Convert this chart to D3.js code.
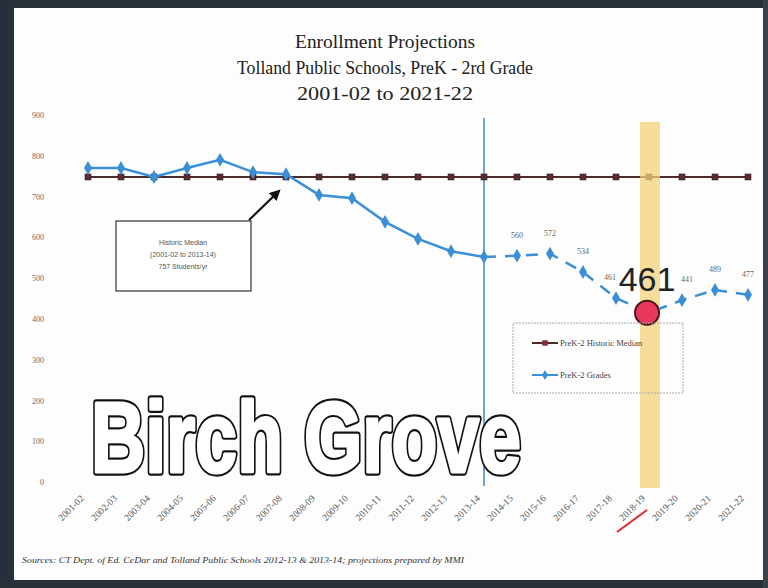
<!DOCTYPE html>
<html><head><meta charset="utf-8">
<script src="https://cdn.jsdelivr.net/npm/d3@7"></script>
<style>html,body{margin:0;padding:0;background:#fff;}svg{display:block;}</style>
</head><body>
<svg id="c" width="768" height="588"></svg>
<script>
const categories = ["2001-02","2002-03","2003-04","2004-05","2005-06","2006-07","2007-08","2008-09","2009-10","2010-11","2011-12","2012-13","2013-14","2014-15","2015-16","2016-17","2017-18","2018-19","2019-20","2020-21","2021-22"];
const gradesValues = [770,770,748,770,790,760,755,704,696,638,596,566,552,555,560,515,451,415,446,471,459];
const medianValues = [748,748,748,748,748,748,748,748,748,748,748,748,748,748,748,748,748,748,748,748,748];
const projectedLabels = ["","","","","","","","","","","","","","560","572","534","461","","441","489","477"];
const yTicks = [0,100,200,300,400,500,600,700,800,900];
const titleLines = ["Enrollment Projections","Tolland Public Schools, PreK - 2rd Grade","2001-02 to 2021-22"];
const lastActual = "2013-14";
const highlightYear = "2018-19";
const highlightLabel = "461";

const svg = d3.select("#c");
const W = 768, H = 588;
svg.append("rect").attr("width",W).attr("height",H).attr("fill","#fdfdfd");

const x = d3.scalePoint().domain(categories).range([88,748]);
const y = d3.scaleLinear().domain([0,900]).range([482,115]);

// title
svg.append("g").selectAll("text").data(titleLines).join("text")
  .attr("x",385).attr("y",(d,i)=>48+i*26).attr("text-anchor","middle")
  .attr("font-family","Liberation Serif, serif").attr("font-size",19).attr("fill","#222")
  .attr("textLength",(d,i)=>[180,296,176][i]).attr("lengthAdjust","spacingAndGlyphs")
  .text(d=>d);

// y axis labels
const yAxis = d3.axisLeft(y).tickValues(yTicks).tickSize(0).tickPadding(0);
const ya = svg.append("g").attr("transform","translate(44,0)").call(yAxis);
ya.select(".domain").remove();
ya.selectAll("text").attr("font-family","Liberation Serif, serif").attr("font-size",8).attr("fill","#6a6a6a");

// x axis labels
const xAxis = d3.axisBottom(x).tickSize(0).tickPadding(0);
const xa = svg.append("g").attr("transform","translate(0,497)").call(xAxis);
xa.select(".domain").remove();
xa.selectAll("text").attr("font-family","Liberation Serif, serif").attr("font-size",9.5).attr("fill","#555")
  .attr("text-anchor","end").attr("dy",0).attr("transform","translate(-4,2) rotate(-45)");

// vertical line at last actual year
svg.append("line").attr("x1",x(lastActual)).attr("x2",x(lastActual)).attr("y1",118).attr("y2",486)
  .attr("stroke","#3b86cc").attr("stroke-width",1.5);

// median line
const lineGen = d3.line().x((d,i)=>x(categories[i])).y(d=>y(d));
svg.append("path").datum(medianValues).attr("d",lineGen).attr("fill","none")
  .attr("stroke","#4a2c2c").attr("stroke-width",2);
svg.append("g").selectAll("rect").data(medianValues).join("rect")
  .attr("x",(d,i)=>x(categories[i])-3).attr("y",d=>y(d)-3).attr("width",6).attr("height",6)
  .attr("fill","#5a2a35").attr("stroke","#3a2020").attr("stroke-width",0.6);

// grades line: actual solid, projected dashed
const idxLast = categories.indexOf(lastActual);
const actual = gradesValues.slice(0, idxLast+1);
const projected = gradesValues.slice(idxLast);
svg.append("path").datum(actual).attr("d",lineGen).attr("fill","none")
  .attr("stroke","#3a8fd6").attr("stroke-width",2.5);
const lineGen2 = d3.line().x((d,i)=>x(categories[i+idxLast])).y(d=>y(d));
svg.append("path").datum(projected).attr("d",lineGen2).attr("fill","none")
  .attr("stroke","#3a8fd6").attr("stroke-width",2.5).attr("stroke-dasharray","12,9");
const diamond = d3.symbol().type(d3.symbolDiamond).size(55);
svg.append("g").selectAll("path").data(gradesValues).join("path")
  .attr("d",diamond).attr("transform",(d,i)=>`translate(${x(categories[i])},${y(d)})`)
  .attr("fill","#3a8fd6");

// data labels (projected); the two beside the big label are nudged outward
const hi = categories.indexOf(highlightYear);
svg.append("g").selectAll("text").data(projectedLabels).join("text")
  .attr("x",(d,i)=>x(categories[i]) + (i===hi-1?-6:(i===hi+1?5:0)))
  .attr("y",(d,i)=>y(gradesValues[i])-18)
  .attr("text-anchor","middle").attr("font-family","Liberation Serif, serif").attr("font-size",8).attr("fill","#666")
  .text(d=>d);

const hx = x(highlightYear)-2;

// highlight band
svg.append("rect").attr("x",x(highlightYear)-9).attr("y",122).attr("width",20).attr("height",366)
  .attr("fill","#f4d27a").attr("opacity",0.75);

// red circle
svg.append("circle").attr("cx",hx).attr("cy",y(gradesValues[hi]))
  .attr("r",12).attr("fill","#e8385e").attr("stroke","#4a1a1a").attr("stroke-width",2);

// big label
svg.append("text").attr("x",hx).attr("y",291).attr("text-anchor","middle")
  .attr("font-family","Liberation Sans, Arial, sans-serif").attr("font-size",34).attr("fill","#222")
  .text(highlightLabel);

// annotation box
svg.append("rect").attr("x",116).attr("y",221).attr("width",135).attr("height",70)
  .attr("fill","#fff").attr("stroke","#333").attr("stroke-width",1.2);
const annot = ["Historic Median","(2001-02 to 2013-14)","757 Students/yr"];
svg.append("g").selectAll("text").data(annot).join("text")
  .attr("x",183).attr("y",(d,i)=>245+i*12).attr("text-anchor","middle")
  .attr("font-family","Liberation Sans, sans-serif").attr("font-size",7).attr("fill","#555").text(d=>d);
svg.append("defs").append("marker").attr("id","ah").attr("viewBox","0 0 10 10").attr("refX",8).attr("refY",5)
  .attr("markerWidth",5).attr("markerHeight",5).attr("orient","auto")
  .append("path").attr("d","M0,0L10,5L0,10z").attr("fill","#111");
svg.append("line").attr("x1",249).attr("y1",220).attr("x2",279).attr("y2",191)
  .attr("stroke","#111").attr("stroke-width",2.2).attr("marker-end","url(#ah)");

// legend
svg.append("rect").attr("x",513).attr("y",323).attr("width",170).attr("height",70)
  .attr("fill","none").attr("stroke","#aaa").attr("stroke-width",1).attr("stroke-dasharray","2,1");
const legend = [{name:"PreK-2 Historic Median", c:"#4a2c2c", m:"sq"},{name:"PreK-2 Grades", c:"#3a8fd6", m:"di"}];
const lg = svg.append("g").selectAll("g").data(legend).join("g")
  .attr("transform",(d,i)=>`translate(532,${343+i*32})`);
lg.append("line").attr("x1",0).attr("x2",26).attr("stroke",d=>d.c).attr("stroke-width",2);
lg.append("path").attr("d",d=>d.m==="sq"?d3.symbol().type(d3.symbolSquare).size(30)():d3.symbol().type(d3.symbolDiamond).size(30)())
  .attr("transform","translate(13,0)").attr("fill",d=>d.m==="sq"?"#8a2a3a":"#3a8fd6");
lg.append("text").attr("x",28).attr("y",3).attr("font-family","Liberation Serif, serif").attr("font-size",8.5).attr("fill","#444").text(d=>d.name);

// Birch Grove outline text (thick black outline under a white inner stroke for bolder letters)
const bg = svg.append("g");
[{sw:7.5,st:"#111",f:"#111"},{sw:3.2,st:"#fff",f:"#fff"}].forEach(l=>{
  bg.append("text").attr("x",91).attr("y",472)
    .attr("font-family","Liberation Sans, Arial, sans-serif").attr("font-weight","bold").attr("font-size",100)
    .attr("textLength",430).attr("lengthAdjust","spacingAndGlyphs")
    .attr("fill",l.f).attr("stroke",l.st).attr("stroke-width",l.sw).attr("stroke-linejoin","round")
    .text("Birch Grove");
});

// red strike under highlighted x label
svg.append("line").attr("x1",617).attr("y1",532).attr("x2",647).attr("y2",510)
  .attr("stroke","#e02828").attr("stroke-width",2);

// source
svg.append("text").attr("x",22).attr("y",563)
  .attr("font-family","Liberation Serif, serif").attr("font-style","italic").attr("font-size",8).attr("fill","#333")
  .attr("textLength",442).attr("lengthAdjust","spacingAndGlyphs")
  .text("Sources: CT Dept. of Ed. CeDar and Tolland Public Schools 2012-13 & 2013-14; projections prepared by MMI");

// frame
svg.append("rect").attr("x",0).attr("y",0).attr("width",W).attr("height",8).attr("fill","#2a3038");
svg.append("rect").attr("x",0).attr("y",0).attr("width",14).attr("height",H).attr("fill","#25303c");
svg.append("rect").attr("x",0).attr("y",580).attr("width",W).attr("height",8).attr("fill","#2a3038");
svg.append("rect").attr("x",763).attr("y",0).attr("width",5).attr("height",H).attr("fill","#3a4048");
</script>
</body></html>
